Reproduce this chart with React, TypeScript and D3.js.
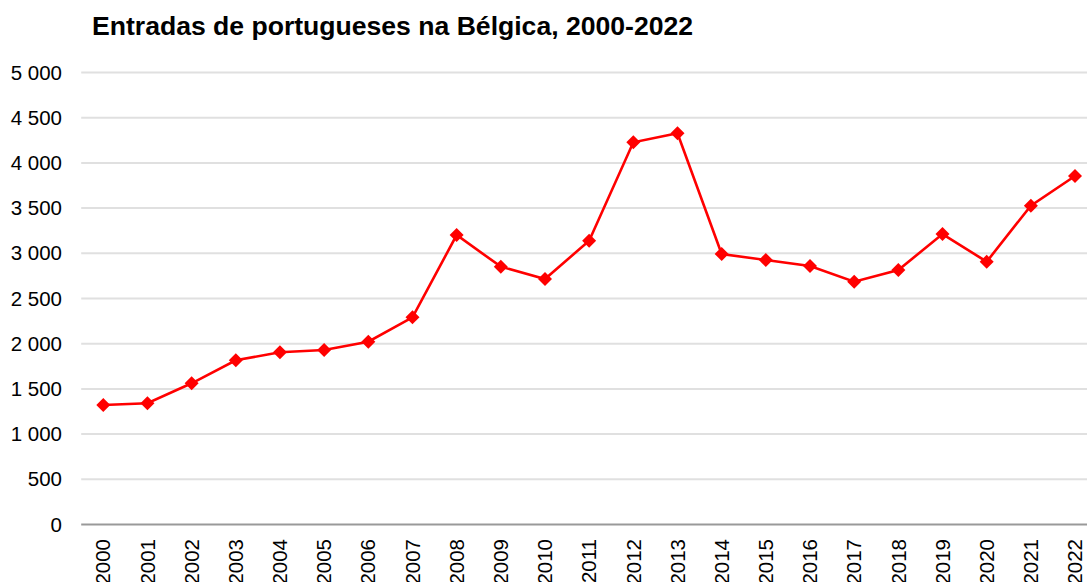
import React from "react";
import * as d3 from "d3";

const title = "Entradas de portugueses na Bélgica, 2000-2022";
const years = ["2000","2001","2002","2003","2004","2005","2006","2007","2008","2009","2010","2011","2012","2013","2014","2015","2016","2017","2018","2019","2020","2021","2022"];
const entries = [1322,1341,1562,1816,1905,1930,2022,2292,3202,2852,2716,3139,4228,4327,2992,2926,2860,2686,2815,3213,2907,3527,3855];
const yTicks = [0,500,1000,1500,2000,2500,3000,3500,4000,4500,5000];

const W = 1087, H = 582;
const FONT = "'Liberation Sans', Arial, sans-serif";

export default function App() {
  const x = d3.scaleBand<string>().domain(years).range([81.2, 81.2 + 23 * 44.17]).padding(0);
  const y = d3.scaleLinear().domain([0, 5000]).range([524.5, 72.5]);
  const cx = (d: string) => (x(d) as number) + x.bandwidth() / 2;
  const line = d3.line<number>().x((_, i) => cx(years[i])).y((v) => y(v));
  const diamond = d3.symbol().type(d3.symbolDiamond2).size(125)();
  const fmt = (v: number) => d3.format(",")(v).replace(/,/g, " ");
  const [x0, x1] = x.range();

  return (
    <svg width={W} height={H} style={{ position: "absolute", left: 0, top: 0, background: "#fff" }} fontFamily={FONT}>
      <text x={92} y={35} fontSize={26.5} fontWeight="bold" fill="#000" textLength={601} lengthAdjust="spacingAndGlyphs">{title}</text>
      {yTicks.map((t) => (
        <g key={t}>
          {t !== 0 && <line x1={x0} x2={x1} y1={y(t)} y2={y(t)} stroke="#e0e0e0" strokeWidth={2} />}
          <text x={62} y={y(t)} dy="0.35em" textAnchor="end" fontSize={20.5} fill="#000">{fmt(t)}</text>
        </g>
      ))}
      <line x1={x0} x2={x1} y1={y(0)} y2={y(0)} stroke="#999" strokeWidth={2} />
      {years.map((yr) => (
        <text key={yr} transform={`translate(${cx(yr)},539) rotate(-90)`} dy="0.35em" textAnchor="end" fontSize={20.5} fill="#000">{yr}</text>
      ))}
      <path d={line(entries) || ""} fill="none" stroke="#ff0000" strokeWidth={2.6} />
      {entries.map((v, i) => (
        <path key={i} d={diamond || ""} transform={`translate(${cx(years[i])},${y(v)})`} fill="#ff0000" />
      ))}
    </svg>
  );
}
